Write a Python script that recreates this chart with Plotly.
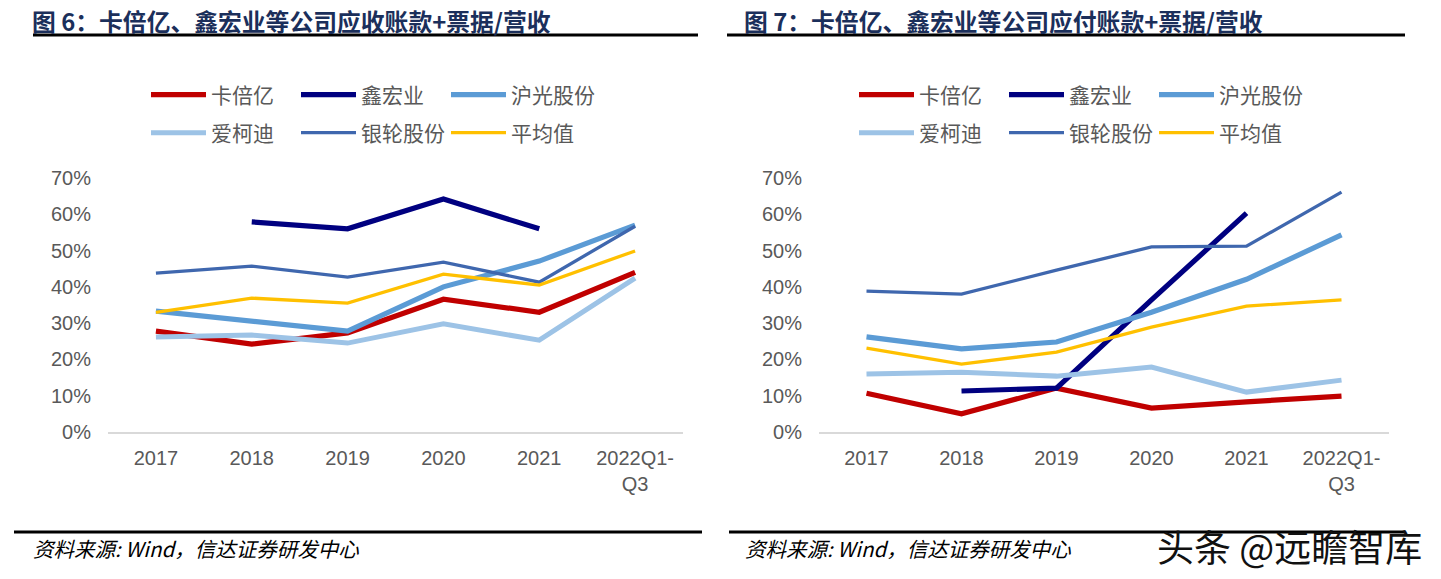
import plotly.graph_objects as go

categories = ["2017", "2018", "2019", "2020", "2021", "2022Q1-<br>Q3"]
series_names = ["卡倍亿", "鑫宏业", "沪光股份", "爱柯迪", "银轮股份", "平均值"]

# 图6 应收账款+票据/营收 (%)
ar_kabeiyi = [27.8, 24.2, 27.3, 36.6, 33.0, 44.0]
ar_xinhongye = [None, 57.9, 56.0, 64.2, 56.0, None]
ar_huguang = [33.3, 30.6, 27.8, 40.0, 47.1, 57.0]
ar_aikedi = [26.2, 26.7, 24.5, 29.8, 25.3, 42.4]
ar_yinlun = [43.8, 45.7, 42.7, 46.8, 41.3, 56.7]
ar_avg = [33.0, 36.9, 35.5, 43.5, 40.5, 49.9]

# 图7 应付账款+票据/营收 (%)
ap_kabeiyi = [10.7, 5.0, 12.1, 6.6, 8.3, 9.9]
ap_xinhongye = [None, 11.3, 12.1, 36.4, 60.3, None]
ap_huguang = [26.2, 22.9, 24.8, 33.0, 42.1, 54.3]
ap_aikedi = [16.0, 16.5, 15.4, 17.9, 11.0, 14.3]
ap_yinlun = [38.8, 38.0, 44.6, 51.0, 51.2, 66.1]
ap_avg = [23.1, 18.7, 22.0, 28.9, 34.7, 36.4]

y_ticks = [0, 10, 20, 30, 40, 50, 60, 70]
y_tick_labels = ["0%", "10%", "20%", "30%", "40%", "50%", "60%", "70%"]

colors = ["#C00000", "#000080", "#5B9BD5", "#9DC3E6", "#3F67AE", "#FFC000"]
widths = [5.2, 5.2, 5.2, 5, 3.3, 3.3]

W, H = 1441, 579
def px(x): return x / W
def py(y): return 1 - y / H

fig = go.Figure()

left = [ar_kabeiyi, ar_xinhongye, ar_huguang, ar_aikedi, ar_yinlun, ar_avg]
right = [ap_kabeiyi, ap_xinhongye, ap_huguang, ap_aikedi, ap_yinlun, ap_avg]

for side, data, xa, ya, legs in [("L", left, "x", "y", ["legend", "legend2"]),
                                  ("R", right, "x2", "y2", ["legend3", "legend4"])]:
    for i, (name, vals) in enumerate(zip(series_names, data)):
        fig.add_trace(go.Scatter(
            x=categories, y=vals, name=name, mode="lines",
            line=dict(color=colors[i], width=widths[i]),
            connectgaps=False, xaxis=xa, yaxis=ya,
            legend=legs[0] if i < 3 else legs[1],
            hoverinfo="skip",
        ))

tickfont = dict(family="Liberation Sans, Arial, sans-serif", size=20, color="#595959")
ydom = [py(432), py(178)]
xcommon = dict(type="category", range=[-0.5, 5.5], showgrid=False, showline=True,
               linecolor="#D9D9D9", linewidth=2, ticks="", tickfont=tickfont,
               ticklabelstandoff=7, zeroline=False, automargin=False)
ycommon = dict(range=[0, 70], tickmode="array", tickvals=y_ticks, ticktext=y_tick_labels,
               showgrid=False, showline=False, zeroline=False, tickfont=tickfont, ticks="",
               ticklabelstandoff=16, automargin=False)

fig.update_layout(
    width=W, height=H,
    margin=dict(l=0, r=0, t=0, b=0, pad=0, autoexpand=False),
    paper_bgcolor="white", plot_bgcolor="white",
    xaxis=dict(domain=[px(108), px(683)], anchor="y", **xcommon),
    yaxis=dict(domain=ydom, anchor="x", **ycommon),
    xaxis2=dict(domain=[px(819), px(1389)], anchor="y2", **xcommon),
    yaxis2=dict(domain=ydom, anchor="x2", **ycommon),
    showlegend=True,
)

legfont = dict(family="Noto Sans CJK SC", size=21, color="#595959")
def leg(x, y):
    return dict(orientation="h", x=px(x), y=py(y), xanchor="left", yanchor="middle",
                font=legfont, bgcolor="rgba(0,0,0,0)", itemwidth=55,
                entrywidth=80, entrywidthmode="pixels", tracegroupgap=0,
                itemclick=False, itemdoubleclick=False)

fig.update_layout(
    legend=leg(146, 95), legend2=leg(146, 133),
    legend3=leg(854, 95), legend4=leg(854, 133),
)

titlefont = dict(family="Noto Sans CJK SC", size=23.8, color="#1B2F5B", weight="bold")
fig.add_annotation(text="图 6：卡倍亿、鑫宏业等公司应收账款+票据/营收", xref="paper", yref="paper",
                   x=px(30), y=py(20), xanchor="left", yanchor="middle", showarrow=False,
                   font=titlefont)
fig.add_annotation(text="图 7：卡倍亿、鑫宏业等公司应付账款+票据/营收", xref="paper", yref="paper",
                   x=px(742), y=py(20), xanchor="left", yanchor="middle", showarrow=False,
                   font=titlefont)

srcfont = dict(family="Noto Sans CJK SC", size=20.5, color="#000000", style="italic")
fig.add_annotation(text="资料来源: Wind，信达证券研发中心", xref="paper", yref="paper",
                   x=px(31), y=py(548), xanchor="left", yanchor="middle", showarrow=False,
                   font=srcfont)
fig.add_annotation(text="资料来源: Wind，信达证券研发中心", xref="paper", yref="paper",
                   x=px(743), y=py(548), xanchor="left", yanchor="middle", showarrow=False,
                   font=srcfont)

for x0, x1 in [(33, 698), (727, 1405)]:
    fig.add_shape(type="line", xref="paper", yref="paper", x0=px(x0), x1=px(x1),
                  y0=py(35), y1=py(35), line=dict(color="black", width=3))
for x0, x1 in [(14, 702), (729, 1405)]:
    fig.add_shape(type="line", xref="paper", yref="paper", x0=px(x0), x1=px(x1),
                  y0=py(532), y1=py(532), line=dict(color="black", width=3))

fig.add_annotation(text="头条 @远瞻智库", xref="paper", yref="paper",
                   x=px(1155), y=py(546), xanchor="left", yanchor="middle", showarrow=False,
                   font=dict(family="Noto Sans CJK SC", size=37, color="#111111"))

fig.write_html("out.html")
